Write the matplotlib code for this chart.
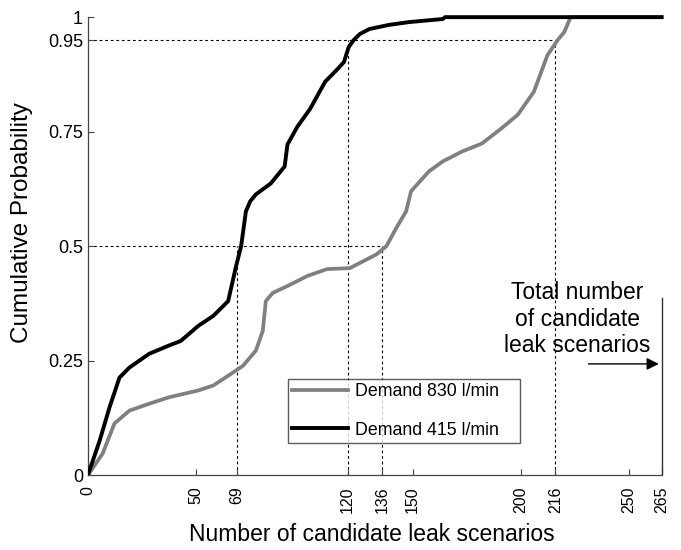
import numpy as np
import matplotlib.pyplot as plt

plt.rcParams['font.family'] = ['Liberation Sans', 'DejaVu Sans']

# Demand 415 l/min (black)
x_415 = [0, 5.5, 10, 14.6, 19.2, 28.3, 37.4, 42.9, 51, 58, 64.8, 68.5, 70.8, 73, 75,
         77.6, 84.5, 90.9, 92.2, 96.8, 102.7, 109.6, 115, 118.3, 120.5, 122.8, 125.6,
         130, 139, 148, 164, 165, 265]
y_415 = [0, 0.076, 0.148, 0.213, 0.235, 0.265, 0.283, 0.293, 0.326, 0.348, 0.38, 0.457,
         0.5, 0.576, 0.598, 0.613, 0.637, 0.674, 0.722, 0.761, 0.8, 0.859, 0.885, 0.902,
         0.935, 0.95, 0.963, 0.974, 0.983, 0.989, 0.996, 1.0, 1.0]

# Demand 830 l/min (gray)
x_830 = [0, 6.8, 12.3, 19.2, 28.3, 37.4, 51, 58, 64.8, 71.7, 77.6, 80.8, 82.2, 85.4,
         92.2, 101.4, 110.5, 121, 133.3, 137.9, 142.5, 147, 149.3, 157.5, 163.9, 173,
         182, 191, 198.6, 206, 212.3, 217, 220, 223, 265]
y_830 = [0, 0.047, 0.113, 0.141, 0.156, 0.17, 0.185, 0.196, 0.217, 0.239, 0.272, 0.315,
         0.38, 0.398, 0.413, 0.435, 0.45, 0.452, 0.482, 0.5, 0.54, 0.576, 0.62, 0.663,
         0.685, 0.707, 0.724, 0.757, 0.787, 0.837, 0.917, 0.95, 0.967, 1.0, 1.0]

x_ticks = [0, 50, 69, 120, 136, 150, 200, 216, 250, 265]
y_ticks = [0, 0.25, 0.5, 0.75, 0.95, 1]
y_tick_labels = ["0", "0.25", "0.5", "0.75", "0.95", "1"]

# 50% and 95% markers: (prob, x for 415, x for 830)
q_levels = [0.5, 0.95]
q_415 = [69, 120]
q_830 = [136, 216]
n_total = 265

fig = plt.figure(figsize=(6.81, 5.5), dpi=100)
ax = fig.add_axes([0.129, 0.136, 0.852, 0.837])

dot = dict(color='black', lw=0.8, linestyle=(0, (2.5, 2.5)), zorder=1)
for q, a, b in zip(q_levels, q_415, q_830):
    ax.plot([0, b], [q, q], **dot)
    ax.plot([a, a], [0, q], **dot)
    ax.plot([b, b], [0, q], **dot)

ax.plot(x_830, y_830, color='#808080', lw=2.7, label='Demand 830 l/min', zorder=3)
ax.plot(x_415, y_415, color='black', lw=2.8, label='Demand 415 l/min', zorder=4)

# total number marker
ax.plot([n_total, n_total], [0, 0.387], color='#333333', lw=1.0)
ax.annotate('', xy=(n_total, 0.243), xytext=(230, 0.243),
            arrowprops=dict(arrowstyle='-|>', color='black', lw=1.0, mutation_scale=18))
ax.text(226, 0.341, 'Total number\nof candidate\nleak scenarios', ha='center', va='center',
        fontsize=16.5, linespacing=1.2)

ax.set_xlim(0, 268)
ax.set_ylim(0, 1.005)
ax.set_xticks(x_ticks)
ax.set_xticklabels([str(v) for v in x_ticks], rotation=90, fontsize=11.5)
ax.set_yticks(y_ticks)
ax.set_yticklabels(y_tick_labels, fontsize=13)
ax.tick_params(direction='in', length=4, width=0.8, color='#444444')
ax.tick_params(axis='x', pad=8)
for s in ['top', 'right']:
    ax.spines[s].set_visible(False)
for s in ['left', 'bottom']:
    ax.spines[s].set_color('#444444')
    ax.spines[s].set_linewidth(0.9)
ax.spines['left'].set_bounds(0, 1)
ax.spines['bottom'].set_bounds(0, n_total)

ax.set_xlabel('Number of candidate leak scenarios', fontsize=16.5)
ax.set_ylabel('Cumulative Probability', fontsize=17.5)
ax.xaxis.set_label_coords(0.49, -0.103)
ax.yaxis.set_label_coords(-0.095, 0.548)

leg = ax.legend(loc='lower left', bbox_to_anchor=(0.345, 0.07, 0.4, 0.141), mode='expand',
                fontsize=12.8, frameon=True, fancybox=False, edgecolor='#333333',
                handlelength=3.1, handletextpad=0.4, labelspacing=1.2, borderpad=0.25,
                borderaxespad=0)
leg.get_frame().set_linewidth(1.0)

fig.savefig('out.png', dpi=100)
